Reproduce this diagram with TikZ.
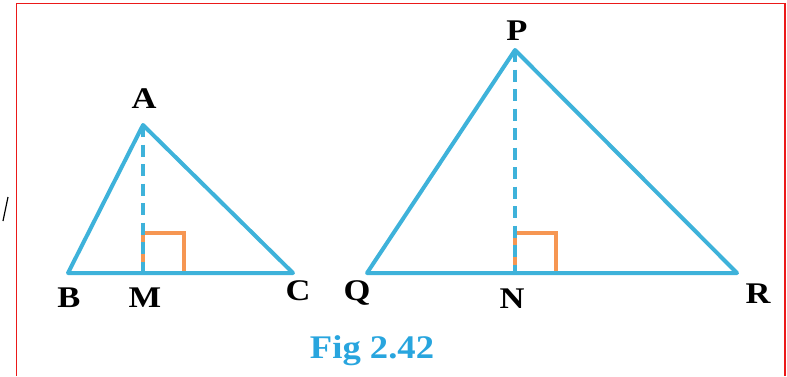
\documentclass[tikz,border=0pt]{standalone}
\usepackage{fontspec}
\setmainfont{Liberation Serif}
\definecolor{sideblue}{RGB}{62,178,218}
\definecolor{rightorange}{RGB}{246,150,82}
\definecolor{capblue}{RGB}{40,165,222}
\definecolor{framered}{RGB}{235,25,25}
\newcommand{\wide}[2][1.15]{\scalebox{#1}[1]{#2}}

\begin{document}
\begin{tikzpicture}[x=1pt, y=-1pt,
    side/.style={line width=4pt, sideblue, line join=round},
    alt/.style={line width=4pt, sideblue, dash pattern=on 12pt off 7.5pt},
    sq/.style={line width=4pt, rightorange},
    lbl/.style={anchor=base, inner sep=0pt, font=\fontsize{30}{30}\selectfont\bfseries}]
    \useasboundingbox (0,0) rectangle (787,376);
    % Frame
    \draw[framered, line width=1.2pt] (16.5,376) -- (16.5,3.5) -- (785,3.5) -- (785,376);
    \draw[line width=1.2pt] (3,221) -- (8,197);
    % Small triangle ABC
    \coordinate (A) at (143,125);
    \coordinate (B) at (68,273);
    \coordinate (C) at (293,273);
    \coordinate (M) at (143,273);
    \draw[sq] (M) rectangle ++(41,-40);
    \draw[side] (A) -- (B) -- (C) -- cycle;
    \draw[alt] (A) -- (M);
    % Large triangle PQR
    \coordinate (P) at (515,50);
    \coordinate (Q) at (367,273);
    \coordinate (R) at (737,273);
    \coordinate (N) at (515,273);
    \draw[sq] (N) rectangle ++(41,-40);
    \draw[side] (P) -- (Q) -- (R) -- cycle;
    \draw[alt] (P) -- (N);
    % Labels
    \node[lbl] (labA) at (144,108) {\wide{A}};
    \node[lbl] (labB) at (69,307) {\wide{B}};
    \node[lbl] (labM) at (145,307) {\wide{M}};
    \node[lbl] (labC) at (298,300) {\wide{C}};
    \node[lbl] (labP) at (517,40) {\wide{P}};
    \node[lbl] (labQ) at (357,300) {\wide{Q}};
    \node[lbl] (labN) at (512,308) {\wide{N}};
    \node[lbl] (labR) at (758,303) {\wide{R}};
    % Caption
    \node[anchor=base, inner sep=0pt, capblue, font=\fontsize{33}{33}\selectfont\bfseries] (fig) at (372,358) {\wide[1.11]{Fig 2.42}};
\end{tikzpicture}
\end{document}
